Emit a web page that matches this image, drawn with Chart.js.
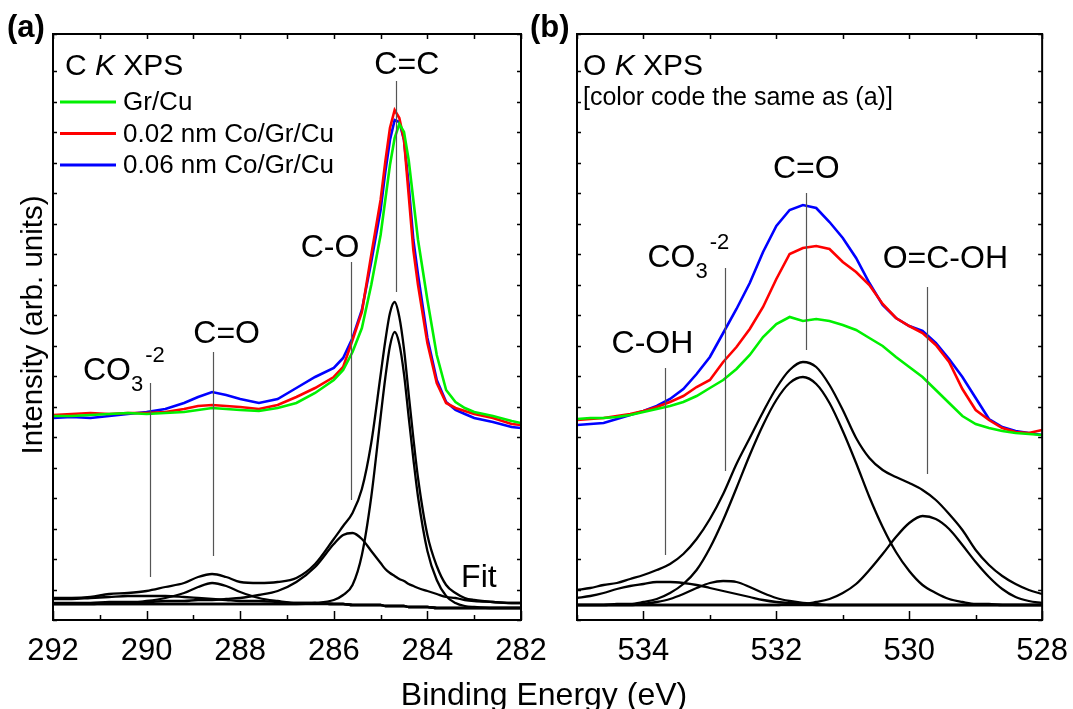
<!DOCTYPE html>
<html>
<head>
<meta charset="utf-8">
<title>C K and O K XPS</title>
<script src="https://cdn.jsdelivr.net/npm/chart.js@4.4.1/dist/chart.umd.min.js"></script>
<style>
  html, body { margin: 0; padding: 0; background: #fff; }
  body { position: relative; width: 1073px; height: 709px; overflow: hidden; font-family: "Liberation Sans", Arial, sans-serif; color: #000; }
  canvas { position: absolute; top: 0; }
  #chartA { left: 0; }
  #chartB { left: 520px; }
  #xTitle { position: absolute; left: 0; width: 1088px; top: 677px; line-height: 34px; font-size: 32px; text-align: center; }
  #yTitle { position: absolute; left: -168px; top: 308px; width: 400px; line-height: 34px; font-size: 29.5px; text-align: center; transform: rotate(-90deg); }
</style>
</head>
<body>
<canvas id="chartA" width="580" height="709"></canvas>
<canvas id="chartB" width="553" height="709"></canvas>
<div id="yTitle">Intensity (arb. units)</div>
<div id="xTitle">Binding Energy (eV)</div>
<script>
// ---- panel (a): C K XPS ----
const energyA = [292.0, 291.6, 291.2, 290.8, 290.4, 290.0, 289.6, 289.2, 288.9, 288.6, 288.3, 288.0, 287.6, 287.2, 286.8, 286.4, 286.0, 285.8, 285.6, 285.4, 285.2, 285.0, 284.9, 284.8, 284.7, 284.6, 284.5, 284.4, 284.3, 284.2, 284.0, 283.8, 283.6, 283.4, 283.2, 283.0, 282.6, 282.2, 282.0];
const grCuA   = [204, 204, 205, 206, 207, 206, 207, 208, 210, 212, 211, 210, 209, 212, 217, 227, 240, 250, 268, 292, 335, 385, 420, 455, 482, 496, 488, 460, 420, 380, 320, 265, 230, 218, 212, 208, 204, 199, 197];
const co002A  = [205, 206, 207, 206, 207, 207, 208, 211, 214, 215, 214, 213, 211, 215, 223, 232, 243, 253, 280, 308, 365, 420, 458, 492, 510, 502, 480, 425, 370, 335, 277, 237, 217, 212, 209, 206, 202, 196, 195];
const co006A  = [202, 203, 202, 204, 206, 208, 211, 217, 223, 228, 225, 221, 217, 221, 232, 243, 252, 262, 282, 310, 358, 410, 448, 480, 500, 498, 480, 435, 380, 345, 282, 240, 218, 210, 206, 202, 198, 193, 192];
// fit curves (a)
const fitSumA  = [22, 22, 23, 26, 27, 29, 33, 37, 43, 46, 43, 38, 37, 38, 42, 56, 81, 94, 107, 131, 177, 245, 279, 307, 318, 303, 271, 226, 182, 142, 85, 54, 35, 27, 22, 20, 18, 17, 17];
const fitCCA   = [16, 16, 16, 16, 16, 16, 16, 16, 16, 16, 16, 16, 16, 16, 16, 17, 20, 25, 35, 65, 123, 203, 242, 274, 288, 276, 246, 203, 161, 123, 69, 40, 24, 17, 14, 13, 12, 12, 12];
const fitCOA   = [17, 17, 17, 18, 18, 18, 19, 19, 20, 20, 21, 22, 25, 29, 38, 53, 76, 85, 87, 81, 69, 57, 51, 47, 44, 41, 39, 36, 34, 32, 29, 26, 23, 22, 20, 19, 18, 17, 17];
const fitC2OA  = [16, 16, 16, 17, 17, 19, 22, 27, 33, 37, 34, 28, 22, 19, 17, 17, 16, 16, 15, 15, 15, 15, 14, 14, 14, 14, 14, 13, 13, 13, 13, 12, 12, 12, 12, 12, 12, 12, 12];
const fitCO3A  = [21, 21, 22, 23, 24, 24, 24, 23, 22, 21, 20, 19, 19, 18, 17, 17, 16, 16, 15, 15, 15, 15, 14, 14, 14, 14, 14, 13, 13, 13, 13, 12, 12, 12, 12, 12, 12, 12, 12];
const fitBaseA = [16, 16, 16, 16, 16, 16, 16, 16, 16, 16, 16, 16, 16, 16, 16, 16, 16, 16, 15, 15, 15, 15, 14, 14, 14, 14, 14, 13, 13, 13, 13, 12, 12, 12, 12, 12, 12, 12, 12];

// ---- panel (b): O K XPS ----
const energyB = [535.0, 534.8, 534.6, 534.4, 534.2, 534.0, 533.8, 533.6, 533.4, 533.2, 533.0, 532.8, 532.6, 532.4, 532.2, 532.0, 531.8, 531.6, 531.4, 531.2, 531.0, 530.8, 530.6, 530.4, 530.2, 530.0, 529.8, 529.6, 529.4, 529.2, 529.0, 528.8, 528.6, 528.4, 528.2, 528.0];
const grCuB   = [201, 202, 202, 203, 205, 208, 211, 214, 218, 224, 232, 240, 251, 265, 283, 296, 303, 299, 301, 299, 295, 290, 282, 274, 263, 253, 243, 230, 217, 204, 196, 192, 189, 187, 186, 185];
const co002B  = [200, 201, 202, 204, 206, 209, 213, 218, 224, 233, 240, 258, 273, 291, 313, 341, 366, 372, 374, 371, 358, 348, 335, 316, 302, 294, 287, 275, 258, 231, 210, 200, 192, 188, 187, 190];
const co006B  = [195, 196, 197, 201, 205, 209, 214, 221, 231, 246, 263, 287, 311, 337, 368, 394, 410, 415, 412, 398, 382, 362, 337, 315, 302, 294, 289, 277, 261, 243, 222, 201, 193, 189, 187, 185];
// fit curves (b)
const fitSumB  = [30, 32, 35, 37, 41, 45, 50, 56, 66, 81, 101, 126, 156, 182, 208, 232, 250, 258, 253, 235, 210, 182, 162, 150, 143, 137, 130, 120, 106, 90, 70, 55, 44, 36, 30, 26];
const fitC2OB  = [15, 15, 15, 16, 16, 18, 21, 27, 36, 50, 72, 100, 132, 165, 195, 220, 237, 243, 236, 217, 189, 157, 123, 93, 68, 49, 35, 27, 21, 18, 16, 16, 15, 15, 15, 15];
const fitOCOHB = [15, 15, 15, 15, 15, 15, 15, 15, 15, 15, 15, 15, 15, 15, 15, 15, 16, 16, 18, 21, 27, 36, 50, 66, 83, 97, 104, 101, 91, 75, 58, 43, 31, 23, 19, 17];
const fitCOHB  = [22, 24, 27, 31, 34, 36, 38, 38, 37, 35, 32, 29, 26, 23, 20, 18, 17, 16, 15, 15, 15, 15, 15, 15, 15, 15, 15, 15, 15, 15, 15, 15, 15, 15, 15, 15];
const fitCO3B  = [15, 15, 15, 15, 15, 16, 18, 21, 26, 32, 37, 39, 38, 33, 27, 22, 19, 17, 16, 15, 15, 15, 15, 15, 15, 15, 15, 15, 15, 15, 15, 15, 15, 15, 15, 15];
const fitBaseB = [15, 15, 15, 15, 15, 15, 15, 15, 15, 15, 15, 15, 15, 15, 15, 15, 15, 15, 15, 15, 15, 15, 15, 15, 15, 15, 15, 15, 15, 15, 15, 15, 15, 15, 15, 15];

const seriesNames = ['Gr/Cu', '0.02 nm Co/Gr/Cu', '0.06 nm Co/Gr/Cu'];
const seriesColors = ['#00f000', '#ff0000', '#0000ff'];

// peak markers: [energy, top, bottom] and their labels
const marksA = [[284.68, 539, 328], [285.63, 358, 120], [288.58, 268, 64], [289.93, 237, 43]];
const labelsA = [
  { text: 'C=C', x: 284.44, y: 546, align: 'center' },
  { text: 'C-O', x: 286.08, y: 363, align: 'center' },
  { text: 'C=O', x: 288.29, y: 277, align: 'center' },
  { text: 'Fit', x: 283.28, y: 33, align: 'left' }
];
const carbonateA = { x: 291.36, y: 240 };

const marksB = [[531.55, 427, 270], [532.78, 352, 149], [533.67, 252, 65], [529.74, 333, 146]];
const labelsB = [
  { text: 'C=O', x: 531.55, y: 442, align: 'center' },
  { text: 'C-OH', x: 534.48, y: 267, align: 'left' },
  { text: 'O=C-OH', x: 530.40, y: 352, align: 'left' }
];
const carbonateB = { x: 533.94, y: 353 };

const FONT = '"Liberation Sans", Arial, sans-serif';

function pts(xs, ys) {
  return xs.map((x, i) => ({ x: x, y: ys[i] }));
}

const panelDecor = {
  id: 'panelDecor',
  afterDatasetsDraw(chart, args, o) {
    const ctx = chart.ctx;
    const a = chart.chartArea;
    const xs = chart.scales.x, ys = chart.scales.y;
    ctx.save();

    // peak marker lines
    ctx.strokeStyle = '#555';
    ctx.lineWidth = 1.2;
    o.marks.forEach(m => {
      const px = Math.round(xs.getPixelForValue(m[0])) + 0.5;
      ctx.beginPath();
      ctx.moveTo(px, ys.getPixelForValue(m[1]));
      ctx.lineTo(px, ys.getPixelForValue(m[2]));
      ctx.stroke();
    });

    // frame
    ctx.strokeStyle = '#000';
    ctx.lineWidth = 2;
    ctx.strokeRect(a.left, a.top, a.right - a.left, a.bottom - a.top);

    // x ticks (inside, bottom and top)
    ctx.lineWidth = 1.5;
    xs.ticks.forEach(t => {
      const px = Math.round(xs.getPixelForValue(t.value)) + 0.5;
      const len = t.value % 2 === 0 ? 9 : 5;
      ctx.beginPath();
      ctx.moveTo(px, a.bottom); ctx.lineTo(px, a.bottom - len);
      ctx.moveTo(px, a.top); ctx.lineTo(px, a.top + 5);
      ctx.stroke();
    });
    // y ticks (inside, left and right)
    ys.ticks.forEach(t => {
      const py = Math.round(ys.getPixelForValue(t.value)) + 0.5;
      ctx.beginPath();
      ctx.moveTo(a.left, py); ctx.lineTo(a.left + 4, py);
      ctx.moveTo(a.right, py); ctx.lineTo(a.right - 4, py);
      ctx.stroke();
    });

    ctx.fillStyle = '#000';
    ctx.textBaseline = 'alphabetic';

    // peak labels
    ctx.font = '32px ' + FONT;
    o.labels.forEach(l => {
      ctx.textAlign = l.align;
      ctx.fillText(l.text, xs.getPixelForValue(l.x), ys.getPixelForValue(l.y));
    });
    // carbonate label with sub/superscript
    ctx.textAlign = 'left';
    const cx = xs.getPixelForValue(o.carbonate.x), cy = ys.getPixelForValue(o.carbonate.y);
    ctx.font = '32px ' + FONT;
    const w = ctx.measureText('CO').width;
    ctx.fillText('CO', cx, cy);
    ctx.font = '22px ' + FONT;
    ctx.fillText('3', cx + w, cy + 11);
    const w3 = ctx.measureText('3').width;
    ctx.fillText('-2', cx + w + w3 + 2, cy - 18);

    // panel tag
    ctx.font = 'bold 31px ' + FONT;
    ctx.fillText(o.tag, a.left + o.tagDx, 37);

    // panel heading: "C K XPS" / "O K XPS"
    let hx = a.left + o.headDx;
    const hy = a.top + 41;
    ctx.font = '30px ' + FONT;
    ctx.fillText(o.element + ' ', hx, hy);
    hx += ctx.measureText(o.element + ' ').width;
    ctx.font = 'italic 30px ' + FONT;
    ctx.fillText('K', hx, hy);
    hx += ctx.measureText('K').width;
    ctx.font = '30px ' + FONT;
    ctx.fillText(' XPS', hx, hy);

    if (o.legend) {
      ctx.font = '26px ' + FONT;
      ctx.textBaseline = 'middle';
      seriesNames.forEach((name, i) => {
        const ly = a.top + 68 + i * 31.5;
        ctx.strokeStyle = seriesColors[i];
        ctx.lineWidth = 3;
        ctx.beginPath();
        ctx.moveTo(a.left + 7, ly); ctx.lineTo(a.left + 63, ly);
        ctx.stroke();
        ctx.fillText(name, a.left + 70, ly + 1);
      });
    }
    if (o.note) {
      ctx.font = '25px ' + FONT;
      ctx.textBaseline = 'alphabetic';
      ctx.fillText(o.note, a.left + 6, a.top + 71);
    }
    ctx.restore();
  }
};

function makeChart(id, energy, exp, fits, xMin, xMax, pad, decor) {
  const datasets = [];
  exp.forEach((ys, i) => {
    datasets.push({
      label: seriesNames[i], data: pts(energy, ys),
      borderColor: seriesColors[i], borderWidth: 2.6, tension: 0
    });
  });
  fits.forEach(ys => {
    datasets.push({
      label: 'fit', data: pts(energy, ys),
      borderColor: '#000', borderWidth: 2.3, cubicInterpolationMode: 'monotone'
    });
  });
  return new Chart(document.getElementById(id), {
    type: 'line',
    data: { datasets: datasets },
    options: {
      responsive: false,
      animation: false,
      layout: { padding: pad },
      elements: { point: { radius: 0 } },
      plugins: { legend: { display: false }, tooltip: { enabled: false }, panelDecor: decor },
      scales: {
        x: {
          type: 'linear', reverse: true, min: xMin, max: xMax,
          grid: { display: false }, border: { display: false },
          afterFit: s => { s.height = 89; },
          ticks: {
            stepSize: 1, autoSkip: false, maxRotation: 0, padding: 5, color: '#000',
            font: { family: FONT, size: 31 },
            callback: v => (v % 2 === 0 ? String(v) : '')
          }
        },
        y: {
          display: false, min: 0, max: 586,
          ticks: { stepSize: 30.5 }
        }
      }
    },
    plugins: [panelDecor]
  });
}

makeChart('chartA', energyA, [grCuA, co002A, co006A],
  [fitSumA, fitCCA, fitCOA, fitC2OA, fitCO3A, fitBaseA],
  282, 292, { left: 53, right: 59, top: 34, bottom: 0 },
  { tag: '(a)', tagDx: -46, element: 'C', headDx: 12, legend: true, marks: marksA, labels: labelsA, carbonate: carbonateA });

makeChart('chartB', energyB, [grCuB, co002B, co006B],
  [fitSumB, fitC2OB, fitOCOHB, fitCOHB, fitCO3B, fitBaseB],
  528, 535, { left: 57, right: 27, top: 34, bottom: 0 },
  { tag: '(b)', tagDx: -47, element: 'O', headDx: 6, legend: false, note: '[color code the same as (a)]', marks: marksB, labels: labelsB, carbonate: carbonateB });
</script>
</body>
</html>
